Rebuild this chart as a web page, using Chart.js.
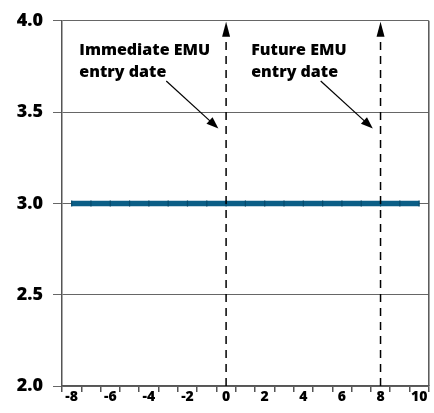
<!DOCTYPE html>
<html>
<head>
<meta charset="utf-8">
<script src="https://cdn.jsdelivr.net/npm/chart.js@4"></script>
<style>
  html, body { margin: 0; padding: 0; background: #fff; }
  #wrap { width: 434px; height: 413px; }
</style>
</head>
<body>
<div id="wrap"><canvas id="chart" width="434" height="413"></canvas></div>
<script>
/* ── Data ─────────────────────────────── */
const periods   = [-8, -7, -6, -5, -4, -3, -2, -1, 0, 1, 2, 3, 4, 5, 6, 7, 8, 9, 10];
const rateLevel = [3, 3, 3, 3, 3, 3, 3, 3, 3, 3, 3, 3, 3, 3, 3, 3, 3, 3, 3];
const yTicks    = [2.0, 2.5, 3.0, 3.5, 4.0];
const entryDates  = [0, 8];
const entryLabels = [['Immediate EMU', 'entry date'], ['Future EMU', 'entry date']];
const labelStartAt = [-7.6, 1.3];   // left edge of each label, in periods

const FONT = '"Open Sans", Lato, sans-serif';

/* ── Annotations: dashed entry lines, arrows, labels ── */
function arrow(ctx, x1, y1, x2, y2, len, half) {
  const a = Math.atan2(y2 - y1, x2 - x1);
  ctx.beginPath();
  ctx.moveTo(x1, y1);
  ctx.lineTo(x2 - Math.cos(a) * len * 0.8, y2 - Math.sin(a) * len * 0.8);
  ctx.stroke();
  ctx.beginPath();
  ctx.moveTo(x2, y2);
  ctx.lineTo(x2 - Math.cos(a) * len - Math.sin(a) * half, y2 - Math.sin(a) * len + Math.cos(a) * half);
  ctx.lineTo(x2 - Math.cos(a) * len + Math.sin(a) * half, y2 - Math.sin(a) * len - Math.cos(a) * half);
  ctx.closePath();
  ctx.fill();
}

const entryPlugin = {
  id: 'entry',
  afterDatasetsDraw(chart) {
    const { ctx, chartArea: ca, scales: { x, y } } = chart;
    const unit = x.getPixelForValue(1) - x.getPixelForValue(0);
    const xAt = v => x.getPixelForValue(0) + (v - periods[0]) * unit;
    ctx.save();
    // right frame
    ctx.strokeStyle = '#555';
    ctx.lineWidth = 1.5;
    ctx.beginPath();
    ctx.moveTo(ca.right, ca.top);
    ctx.lineTo(ca.right, ca.bottom);
    ctx.stroke();

    entryDates.forEach((d, i) => {
      const px = xAt(d);
      ctx.strokeStyle = '#000';
      ctx.fillStyle = '#000';
      ctx.lineWidth = 1.5;
      ctx.setLineDash([8, 6]);
      ctx.beginPath();
      ctx.moveTo(px, ca.bottom);
      ctx.lineTo(px, ca.top + 16);
      ctx.stroke();
      ctx.setLineDash([]);
      ctx.beginPath();
      ctx.moveTo(px, ca.top + 1);
      ctx.lineTo(px - 4, ca.top + 16);
      ctx.lineTo(px + 4, ca.top + 16);
      ctx.closePath();
      ctx.fill();

      // pointer arrow
      ctx.lineWidth = 1.2;
      arrow(ctx, px - unit * 3.1, y.getPixelForValue(3.67), px - unit * 0.4, y.getPixelForValue(3.41), 12, 4.5);

      // label
      const lx = xAt(labelStartAt[i]);
      ctx.font = '800 16px ' + FONT;
      ctx.textAlign = 'left';
      ctx.textBaseline = 'alphabetic';
      ctx.fillText(entryLabels[i][0], lx, y.getPixelForValue(3.81));
      ctx.fillText(entryLabels[i][1], lx, y.getPixelForValue(3.69));
    });
    ctx.restore();
  }
};

/* ── Chart ────────────────────────────── */
new Chart(document.getElementById('chart'), {
  type: 'line',
  data: {
    labels: periods,
    datasets: [{
      data: rateLevel,
      borderColor: '#0b5e86',
      borderWidth: 5.5,
      pointStyle: 'line',
      rotation: 90,
      pointRadius: 3,
      pointBorderColor: '#074a6b',
      pointBorderWidth: 1.2,
      tension: 0,
    }],
  },
  plugins: [entryPlugin],
  options: {
    responsive: false,
    animation: false,
    layout: { padding: { top: 18, right: 5, left: 0, bottom: 0 } },
    plugins: { legend: { display: false }, tooltip: { enabled: false } },
    scales: {
      x: {
        type: 'category',
        offset: true,
        grid: { offset: true, drawOnChartArea: false, drawTicks: true, tickLength: 6, color: '#555', lineWidth: 1.5 },
        border: { display: true, color: '#555', width: 1.5 },
        ticks: {
          autoSkip: false,
          maxRotation: 0,
          padding: -3,
          color: '#000',
          font: { family: FONT, size: 14, weight: '800' },
          callback: (v, i) => (periods[i] % 2 === 0 ? String(periods[i]) : ''),
        },
        afterFit: s => { s.height = 27; },
      },
      y: {
        min: 2,
        max: 4,
        afterBuildTicks: s => { s.ticks = yTicks.map(v => ({ value: v })); },
        grid: { color: '#666', lineWidth: 1, tickLength: 9 },
        border: { display: true, color: '#555', width: 1.5 },
        ticks: {
          padding: 10,
          color: '#000',
          font: { family: FONT, size: 18, weight: '800' },
          callback: v => v.toFixed(1),
        },
        afterFit: s => { s.width = 62; },
      },
    },
  },
});
</script>
</body>
</html>
